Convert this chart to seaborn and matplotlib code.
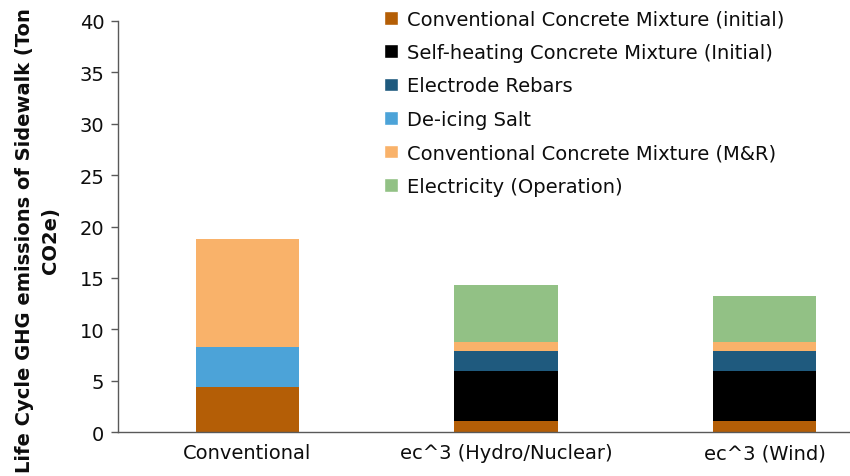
import numpy as np
import pandas as pd
import seaborn as sns
import matplotlib.pyplot as plt
from matplotlib.patches import Patch

scenarios = ['Conventional', 'ec^3 (Hydro/Nuclear)', 'ec^3 (Wind)']
components = ['Conventional Concrete Mixture (initial)',
              'Self-heating Concrete Mixture (Initial)',
              'Electrode Rebars',
              'De-icing Salt',
              'Conventional Concrete Mixture (M&R)',
              'Electricity (Operation)']
conv_concrete = [4.4, 1.1, 1.1]
self_heating = [0.0, 4.8, 4.8]
rebars = [0.0, 2.0, 2.0]
salt = [3.85, 0.0, 0.0]
mr = [10.5, 0.9, 0.9]
electricity = [0.0, 5.5, 4.4]
colors = ['#B45E06', '#000000', '#1F5A7E', '#4CA3D8', '#F9B26A', '#92C185']

vals = [conv_concrete, self_heating, rebars, salt, mr, electricity]
cum = np.cumsum(np.array(vals), axis=0)

sns.set_style("white")
plt.rcParams['font.family'] = ['DejaVu Sans']
plt.rcParams['text.color'] = '#0d0d0d'

fig = plt.figure(figsize=(8.5, 4.77), dpi=100)
ax = fig.add_axes([0.139, 0.092, 0.861, 0.862])

# stacked bars: draw cumulative totals from the top down
for i in range(len(components) - 1, -1, -1):
    df = pd.DataFrame({'scenario': scenarios, 'value': cum[i]})
    sns.barplot(data=df, x='scenario', y='value', color=colors[i],
                width=0.4, saturation=1, ax=ax, zorder=2, linewidth=0)

ax.set_ylim(0, 40)
ax.set_yticks(range(0, 41, 5))
ax.set_xlim(-0.5, 2.33)
ax.tick_params(axis='y', labelsize=14, length=5, width=1, color='#595959', left=True,
               pad=5, labelcolor='#0d0d0d')
ax.tick_params(axis='x', labelsize=14, length=0, pad=8, labelcolor='#0d0d0d')
ax.set_xlabel('')
ax.set_ylabel('Life Cycle GHG emissions of Sidewalk (Ton\nCO2e)', fontsize=14,
              fontweight='bold', linespacing=1.5, color='#0d0d0d')
ax.yaxis.set_label_coords(-0.079, 0.468)
for s in ['top', 'right']:
    ax.spines[s].set_visible(False)
for s in ['left', 'bottom']:
    ax.spines[s].set_color('#595959')
    ax.spines[s].set_linewidth(1)

handles = [Patch(facecolor=c, label=l) for c, l in zip(colors, components)]
ax.legend(handles=handles, loc='upper left', bbox_to_anchor=(0.34, 1.07), frameon=False,
          fontsize=14, handlelength=0.7, handleheight=0.7, handletextpad=0.45,
          labelspacing=0.74)

fig.savefig('out.png', dpi=100)
